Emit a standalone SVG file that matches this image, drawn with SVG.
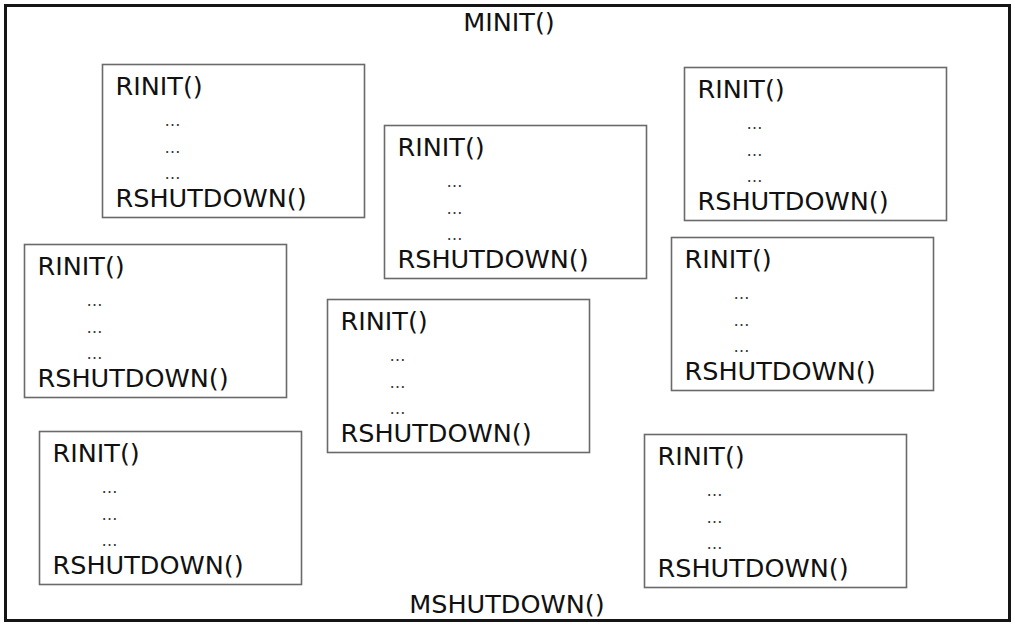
<svg xmlns="http://www.w3.org/2000/svg" width="1015" height="630" viewBox="0 0 1015 630">
<style>
.frame{fill:#ffffff;stroke:#151515;stroke-width:3}
.box{fill:#ffffff;stroke:#6a6a6a;stroke-width:1.6}
.t{font-family:"DejaVu Sans",Verdana,sans-serif;font-size:25.5px;fill:#111}
.d{font-family:"DejaVu Sans",Verdana,sans-serif;font-size:16px;fill:#333}
</style>
<defs>
<g id="req">
<rect class="box" x="0" y="0" width="262" height="153"/>
<text class="t" x="13" y="30">RINIT()</text>
<text class="d" x="62" y="61">…</text>
<text class="d" x="62" y="88">…</text>
<text class="d" x="62" y="114">…</text>
<text class="t" x="13" y="142">RSHUTDOWN()</text>
</g>
</defs>
<rect width="1015" height="630" fill="#ffffff"/>
<g id="module">
<rect class="frame" x="5.5" y="5.5" width="1004" height="615"/>
<text class="t" x="509" y="31" text-anchor="middle">MINIT()</text>
<text class="t" x="507" y="613" text-anchor="middle">MSHUTDOWN()</text>
</g>
<g id="connectors"/>
<g id="r1"><use href="#req" x="102.5" y="64.5"/></g>
<g id="r2"><use href="#req" x="384.5" y="125.5"/></g>
<g id="r3"><use href="#req" x="684.5" y="67.5"/></g>
<g id="r4"><use href="#req" x="24.5" y="244.5"/></g>
<g id="r5"><use href="#req" x="327.5" y="299.5"/></g>
<g id="r6"><use href="#req" x="671.5" y="237.5"/></g>
<g id="r7"><use href="#req" x="39.5" y="431.5"/></g>
<g id="r8"><use href="#req" x="644.5" y="434.5"/></g>
</svg>
